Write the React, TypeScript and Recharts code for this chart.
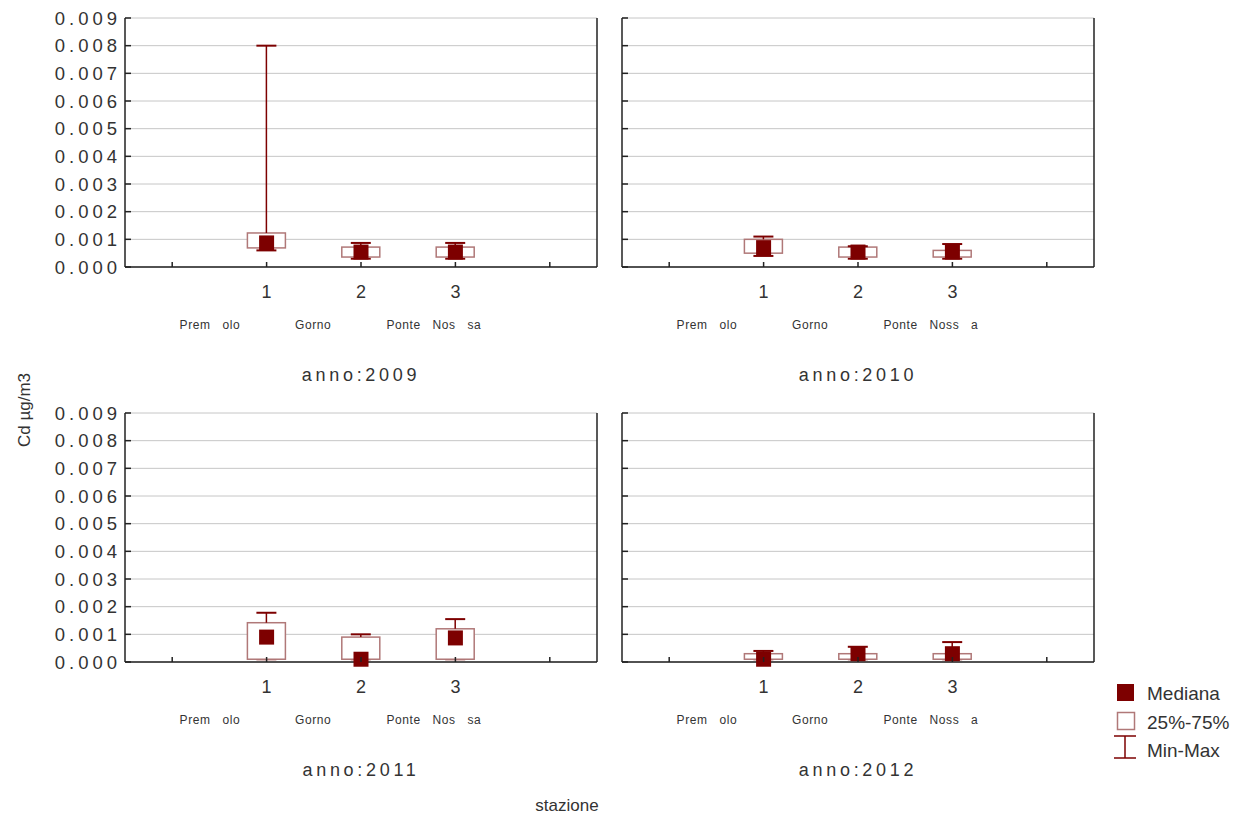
import React from 'react';
import { Bar, CartesianGrid, ComposedChart, Scatter, XAxis, YAxis } from 'recharts';

// Cd µg/m3 per stazione, un pannello per anno
const anni = ['2009', '2010', '2011', '2012'];
const stazioni = [1, 2, 3];
const nomiSinistra = ['Prem   olo', 'Gorno', 'Ponte   Nos   sa'];
const nomiDestra = ['Prem   olo', 'Gorno', 'Ponte   Noss   a'];
const yTicks = [0, 0.001, 0.002, 0.003, 0.004, 0.005, 0.006, 0.007, 0.008, 0.009];
const xTicks = [0, 1, 2, 3, 4];

// ogni riga = un anno, ogni colonna = una stazione
const minimo = [
  [0.0006, 0.0003, 0.0003],
  [0.0004, 0.0003, 0.0003],
  [0.0001, 0.0001, 0.0001],
  [0.0001, 0.0001, 0.0001],
];
const primoQuartile = [
  [0.00069, 0.00036, 0.00036],
  [0.0005, 0.00036, 0.00036],
  [0.0001, 0.0001, 0.0001],
  [0.0001, 0.0001, 0.0001],
];
const mediana = [
  [0.00087, 0.00054, 0.00054],
  [0.0007, 0.00054, 0.00054],
  [0.0009, 0.0001, 0.00087],
  [0.0001, 0.0003, 0.0003],
];
const terzoQuartile = [
  [0.00123, 0.00072, 0.00072],
  [0.001, 0.00072, 0.0006],
  [0.00142, 0.0009, 0.0012],
  [0.0003, 0.0003, 0.0003],
];
const massimo = [
  [0.008, 0.00087, 0.00087],
  [0.0011, 0.00075, 0.00083],
  [0.00178, 0.001, 0.00155],
  [0.0004, 0.00055, 0.00072],
];

const SCURO = '#7d0000';
const SCATOLA = '#b07878';
const ASSE = '#222';
const TESTO = '#333';
const spostamentiNomi = [-87, -66, -69];

const Vuoto = () => <g />;

const Scatola = (p: any) => (
  <rect x={p.x} y={p.y} width={p.width} height={Math.max(p.height, 0)} fill="#fff" stroke={SCATOLA} strokeWidth={1.5} />
);

const baffo = (alto: boolean) => (p: any) => {
  const cx = p.x + p.width / 2;
  const yc = alto ? p.y : p.y + p.height;
  return (
    <g>
      <line x1={cx} x2={cx} y1={p.y} y2={p.y + p.height} stroke={SCURO} strokeWidth={1.5} />
      <line x1={cx - 10} x2={cx + 10} y1={yc} y2={yc} stroke={SCURO} strokeWidth={2} />
    </g>
  );
};

const Quadrato = (p: any) => (
  <rect x={p.cx - 7.5} y={p.cy - 7.5} width={15} height={15} fill={SCURO} />
);

const TickBasso = (p: any, nomi: string[]) => {
  const v = p.payload.value;
  const i = v - 1;
  return (
    <g>
      <line x1={p.x} x2={p.x} y1={p.y} y2={p.y - 5} stroke={ASSE} strokeWidth={1.5} />
      {v >= 1 && v <= 3 && (
        <>
          <text x={p.x} y={p.y + 31} textAnchor="middle" fontSize={18} fill={TESTO}>{v}</text>
          <text x={p.x + spostamentiNomi[i]} y={p.y + 62} fontSize={12} letterSpacing={0.6} fill={TESTO} style={{ whiteSpace: 'pre' }}>
            {nomi[i]}
          </text>
        </>
      )}
    </g>
  );
};

const TickAlto = (p: any) => (
  <line x1={p.x} x2={p.x} y1={p.y} y2={p.y + 5} stroke={ASSE} strokeWidth={1.5} />
);

const TickSinistra = (p: any, conTesto: boolean) => (
  <g>
    <line x1={p.x} x2={p.x + 6} y1={p.y} y2={p.y} stroke={ASSE} strokeWidth={1.5} />
    {conTesto && (
      <text x={p.x - 4} y={p.y + 6.5} textAnchor="end" fontSize={18.5} letterSpacing={4} fill={TESTO}>
        {Number(p.payload.value).toFixed(3)}
      </text>
    )}
  </g>
);

const TickDestra = (p: any) => (
  <line x1={p.x} x2={p.x - 6} y1={p.y} y2={p.y} stroke={ASSE} strokeWidth={1.5} />
);

const Pannello = ({ idx, left, top, sinistra }: { idx: number; left: number; top: number; sinistra: boolean }) => {
  const data = stazioni.map((s, i) => ({
    x: s,
    base: minimo[idx][i],
    baffoBasso: primoQuartile[idx][i] - minimo[idx][i],
    scatola: terzoQuartile[idx][i] - primoQuartile[idx][i],
    baffoAlto: massimo[idx][i] - terzoQuartile[idx][i],
    mediana: mediana[idx][i],
  }));
  const nomi = sinistra ? nomiSinistra : nomiDestra;
  const linea = { stroke: ASSE, strokeWidth: 1.5 };
  return (
    <div style={{ position: 'absolute', left, top }}>
      <ComposedChart width={sinistra ? 600 : 500} height={392} data={data} margin={{ top: 18, right: 0, bottom: 0, left: 0 }}>
        <CartesianGrid vertical={false} stroke="#c6c6c6" />
        <XAxis
          dataKey="x"
          type="number"
          domain={[-0.5, 4.5]}
          ticks={xTicks}
          interval={0}
          height={125}
          tickSize={0}
          tickMargin={0}
          axisLine={linea}
          tickLine={false}
          tick={(p: any) => TickBasso(p, nomi)}
          label={{ value: `anno:${anni[idx]}`, position: 'insideBottom', offset: 11, fontSize: 18, letterSpacing: 3.7, fill: TESTO }}
        />
        <XAxis
          xAxisId="alto"
          orientation="top"
          type="number"
          domain={[-0.5, 4.5]}
          ticks={xTicks}
          interval={0}
          height={0}
          tickSize={0}
          tickMargin={0}
          axisLine={linea}
          tickLine={false}
          tick={TickAlto}
        />
        <YAxis
          type="number"
          domain={[0, 0.009]}
          ticks={yTicks}
          interval={0}
          width={sinistra ? 125 : 25}
          tickSize={0}
          tickMargin={0}
          axisLine={linea}
          tickLine={false}
          tick={(p: any) => TickSinistra(p, sinistra)}
        />
        <YAxis
          yAxisId="destra"
          orientation="right"
          type="number"
          domain={[0, 0.009]}
          ticks={yTicks.slice(1, -1)}
          interval={0}
          width={3}
          tickSize={0}
          tickMargin={0}
          axisLine={linea}
          tickLine={false}
          tick={TickDestra}
        />
        <Bar dataKey="base" stackId="box" barSize={38} shape={Vuoto} isAnimationActive={false} />
        <Bar dataKey="baffoBasso" stackId="box" barSize={38} shape={baffo(false)} isAnimationActive={false} />
        <Bar dataKey="scatola" stackId="box" barSize={38} shape={Scatola} isAnimationActive={false} />
        <Bar dataKey="baffoAlto" stackId="box" barSize={38} shape={baffo(true)} isAnimationActive={false} />
        <Scatter dataKey="mediana" shape={Quadrato} isAnimationActive={false} />
      </ComposedChart>
    </div>
  );
};

const Legenda = () => (
  <svg width={142} height={95} style={{ position: 'absolute', left: 1105, top: 675 }}>
    <rect x={12} y={9} width={17} height={17} fill={SCURO} />
    <text x={42} y={25} fontSize={19} fill={TESTO}>Mediana</text>
    <rect x={12.5} y={37.5} width={17} height={17} fill="#fff" stroke={SCATOLA} strokeWidth={1.5} />
    <text x={42} y={54} fontSize={19} fill={TESTO}>25%-75%</text>
    <line x1={20} x2={20} y1={61} y2={83} stroke={SCURO} strokeWidth={1.5} />
    <line x1={9} x2={31} y1={61} y2={61} stroke={SCURO} strokeWidth={1.5} />
    <line x1={9} x2={31} y1={83} y2={83} stroke={SCURO} strokeWidth={1.5} />
    <text x={42} y={82} fontSize={19} fill={TESTO}>Min-Max</text>
  </svg>
);

export default function App() {
  return (
    <div
      style={{
        position: 'absolute',
        left: 0,
        top: 0,
        width: 1247,
        height: 818,
        background: '#fff',
        fontFamily: "Arial, 'Liberation Sans', sans-serif",
      }}
    >
      <Pannello idx={0} left={0} top={0} sinistra />
      <Pannello idx={1} left={597} top={0} sinistra={false} />
      <Pannello idx={2} left={0} top={395} sinistra />
      <Pannello idx={3} left={597} top={395} sinistra={false} />
      <svg width={50} height={160} style={{ position: 'absolute', left: 0, top: 330 }}>
        <text x={24} y={80} transform="rotate(-90 24 80)" textAnchor="middle" dominantBaseline="central" fontSize={17} fill={TESTO}>
          Cd µg/m3
        </text>
      </svg>
      <svg width={200} height={40} style={{ position: 'absolute', left: 467, top: 778 }}>
        <text x={100} y={33} textAnchor="middle" fontSize={17} fill={TESTO}>stazione</text>
      </svg>
      <Legenda />
    </div>
  );
}
